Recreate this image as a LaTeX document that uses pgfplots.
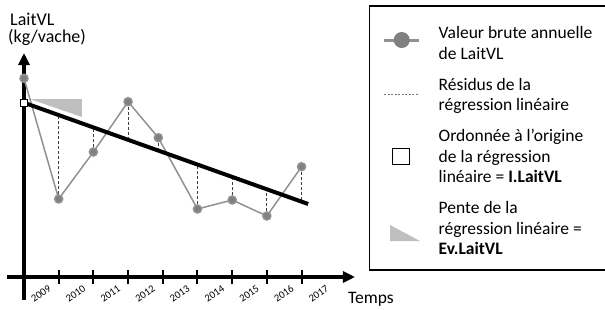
\documentclass[border=0pt]{standalone}
\usepackage{fontspec}
\setmainfont{Carlito}
\usepackage{pgfplots}
\pgfplotsset{compat=1.18}
\usetikzlibrary{arrows.meta}
\definecolor{ptgray}{RGB}{128,128,128}
\definecolor{lngray}{RGB}{145,145,145}
\definecolor{trigray}{RGB}{191,191,191}
\begin{document}
\begin{tikzpicture}
\useasboundingbox (-7pt,-9pt) rectangle (598pt,300pt);
\begin{axis}[
  scale only axis, width=348pt, height=247pt,
  xmin=-0.49, xmax=9.54, ymin=-23, ymax=224,
  axis lines=middle,
  axis line style={line width=4.5pt, -{Triangle[length=12pt,width=11pt]}},
  clip=false,
  unbounded coords=jump,
  ytick=\empty,
  xtick={0.49,1.49,2.49,3.49,4.49,5.49,6.49,7.49,8.49},
  xticklabels={2009,2010,2011,2012,2013,2014,2015,2016,2017},
  major tick length=0pt,
  tick style={line width=2pt, black},
  xticklabel style={font=\fontsize{10.5}{12}\selectfont, yshift=-17pt, rotate=35, anchor=center, inner sep=0pt},
  extra x ticks={1,2,3,4,5,6,7,8},
  extra x tick labels={},
  extra x tick style={major tick length=14pt, tick align=center},
  legend style={at={(1.0402,1.1943)}, anchor=north west, draw=black, line width=1.5pt,
    inner xsep=13pt, inner ysep=8.85pt, row sep=10.5pt, column sep=18pt,
    font=\fontsize{17.5}{20.5}\selectfont,
    nodes={inner sep=0pt, text depth=},
    cells={anchor=west}},
]
% slope triangle
\addplot[fill=trigray, draw=none, forget plot] coordinates {(0.17,178) (1.67,178) (1.67,160)} -- cycle;
% residuals
\addplot[black!75, line width=0.8pt, dash pattern=on 3pt off 2pt, forget plot] coordinates {
(1,78) (1,161.9) (1,nan)
(2,125) (2,149.6) (2,nan)
(3,175.3) (3,137.2) (3,nan)
(3.87,139.3) (3.87,126.4) (3.87,nan)
(5,68) (5,112.5) (5,nan)
(6,77) (6,100.1) (6,nan)
(7,61) (7,87.7) (7,nan)
(8,110.3) (8,75.3)
};
% raw annual values
\addplot[lngray, line width=1.5pt, mark=*, mark size=4pt, mark options={fill=ptgray, draw=none}, forget plot] coordinates {
(0,198.7) (1,78) (2,125) (3,175.3) (3.87,139.3) (5,68) (6,77) (7,61) (8,110.3)
};
% regression line
\addplot[black, line width=4pt, forget plot] coordinates {(0,174.3) (8.19,73)};
% intercept
\addplot[only marks, mark=square*, mark size=3.5pt, mark options={fill=white, draw=black, line width=1pt}, forget plot] coordinates {(0,174.3)};

\addlegendimage{legend image code/.code={
  \path[draw=none] (0pt,0pt) -- (35pt,0pt);
  \draw[lngray, line width=3pt] (0pt,0pt) -- (35pt,0pt);
  \fill[ptgray, draw=none] (17.5pt,0pt) circle (8pt);}}
\addlegendentry{\parbox{156pt}{\rule{0pt}{24.15pt}Valeur brute annuelle\\de LaitVL\strut}}
\addlegendimage{legend image code/.code={
  \path[draw=none] (0pt,0pt) -- (35pt,0pt);
  \draw[black!55, line width=0.7pt, dash pattern=on 2pt off 1.5pt] (0pt,2.4pt) -- (35pt,2.4pt);}}
\addlegendentry{\parbox{156pt}{\strut Résidus de la\\régression linéaire\strut}}
\addlegendimage{legend image code/.code={
  \path[draw=none] (0pt,0pt) -- (35pt,0pt);
  \draw[black, fill=white, line width=1.2pt] (8pt,-6.6pt) rectangle (25pt,9.4pt);}}
\addlegendentry{\parbox{156pt}{\strut Ordonnée à l’origine\\de la régression\\linéaire = \textbf{I.LaitVL}\strut}}
\addlegendimage{legend image code/.code={
  \path[draw=none] (0pt,0pt) -- (35pt,0pt);
  \fill[trigray, draw=none] (6pt,5pt) -- (6pt,-11pt) -- (36pt,-11pt) -- cycle;}}
\addlegendentry{\parbox{156pt}{\strut Pente de la\\régression linéaire =\\\textbf{Ev.LaitVL}\strut}}

\node[anchor=base west, inner sep=0pt, font=\fontsize{18}{20}\selectfont] at (axis cs:-0.403,252) {LaitVL};
\node[anchor=base west, inner sep=0pt, font=\fontsize{18}{20}\selectfont] at (axis cs:-0.461,235) {(kg/vache)};
\node[anchor=base west, inner sep=0pt, font=\fontsize{17.5}{20}\selectfont] at (axis cs:9.337,-26) {Temps};
\end{axis}
\end{tikzpicture}
\end{document}
